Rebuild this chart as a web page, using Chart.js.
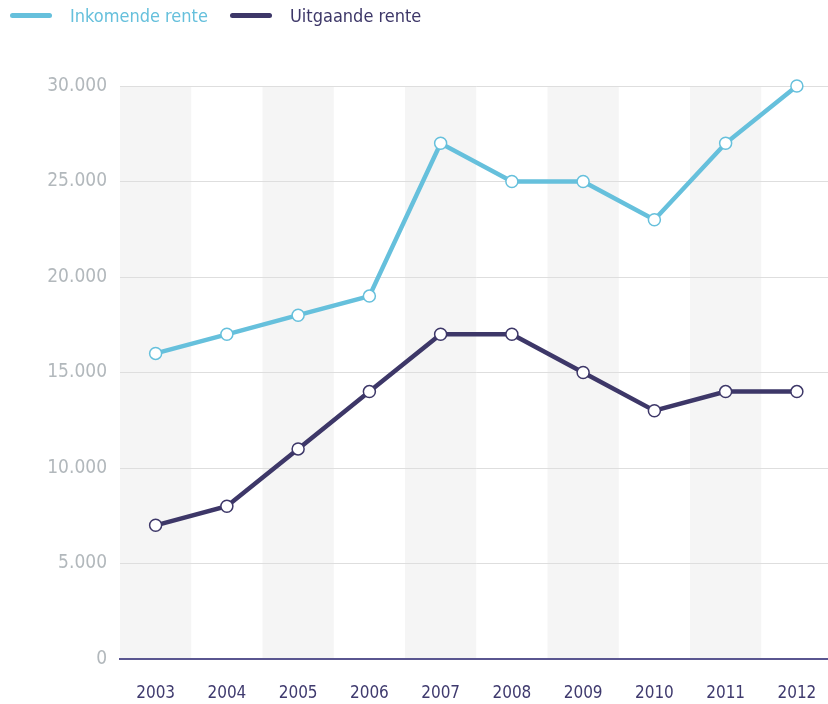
<!DOCTYPE html>
<html lang="nl">
<head>
<meta charset="UTF-8">
<title>Inkomende en uitgaande rente</title>
<script src="https://cdn.jsdelivr.net/npm/chart.js"></script>
<style>
  html, body { margin: 0; padding: 0; background: #fff; overflow: hidden; }
  .wrap { position: relative; width: 828px; height: 704px; overflow: hidden; }
  #legenda { position: absolute; top: 5px; left: 10px; font-family: 'DejaVu Sans Condensed', 'Liberation Sans Narrow', Roboto, sans-serif; font-size: 18px; }
  #legenda .item { position: absolute; top: 0; display: flex; align-items: center; white-space: nowrap; }
  #legenda .lijn { width: 42px; height: 5px; border-radius: 3px; margin-right: 18px; }
  canvas { position: absolute; top: 0; left: 0; }
</style>
</head>
<body>
<div class="wrap">
  <canvas id="renteChart" width="840" height="704"></canvas>
  <div id="legenda"></div>
</div>
<script>
  const jaren = ['2003', '2004', '2005', '2006', '2007', '2008', '2009', '2010', '2011', '2012'];
  const inkomendeRente = [16000, 17000, 18000, 19000, 27000, 25000, 25000, 23000, 27000, 30000];
  const uitgaandeRente = [7000, 8000, 11000, 14000, 17000, 17000, 15000, 13000, 14000, 14000];
  const yTicks = [0, 5000, 10000, 15000, 20000, 25000, 30000];

  const lichtBlauw = '#66c0dc';
  const donkerPaars = '#3d3768';
  const fontNaam = "'DejaVu Sans Condensed', 'Liberation Sans Narrow', Roboto, sans-serif";

  function formatGetal(v) {
    return String(v).replace(/\B(?=(\d{3})+(?!\d))/g, '.');
  }

  // grijze banden achter elk tweede jaar, voor de assen getekend
  const banden = {
    id: 'banden',
    beforeDraw(chart) {
      const { ctx, chartArea, scales } = chart;
      const x = scales.x;
      const breedte = x.getPixelForValue(1) - x.getPixelForValue(0);
      ctx.save();
      ctx.fillStyle = '#f5f5f5';
      jaren.forEach((j, i) => {
        if (i % 2 === 0) {
          const midden = x.getPixelForValue(i);
          ctx.fillRect(midden - breedte / 2, chartArea.top, breedte, chartArea.bottom - chartArea.top);
        }
      });
      ctx.restore();
    }
  };

  const chart = new Chart(document.getElementById('renteChart'), {
    type: 'line',
    data: {
      labels: jaren,
      datasets: [{
        label: 'Inkomende rente',
        data: inkomendeRente,
        borderColor: lichtBlauw,
        backgroundColor: '#ffffff',
        pointBorderColor: lichtBlauw,
        pointBackgroundColor: '#ffffff',
        borderWidth: 4.5,
        pointRadius: 6,
        pointBorderWidth: 1.5,
        tension: 0,
        clip: false
      }, {
        label: 'Uitgaande rente',
        data: uitgaandeRente,
        borderColor: donkerPaars,
        backgroundColor: '#ffffff',
        pointBorderColor: donkerPaars,
        pointBackgroundColor: '#ffffff',
        borderWidth: 4.5,
        pointRadius: 6,
        pointBorderWidth: 1.5,
        tension: 0,
        clip: false
      }]
    },
    options: {
      responsive: false,
      animation: false,
      layout: { padding: { top: 86, left: 0, right: 4, bottom: 0 } },
      plugins: {
        legend: { display: false },
        tooltip: { enabled: false }
      },
      scales: {
        x: {
          offset: true,
          grid: { display: false },
          border: { display: true, color: '#5a5690', width: 2, z: 1 },
          ticks: {
            color: '#3f3a6e',
            padding: 16,
            font: { family: fontNaam, size: 17 }
          },
          afterFit(s) { s.height = 45; }
        },
        y: {
          min: 0,
          max: 30000,
          afterBuildTicks(s) { s.ticks = yTicks.map(v => ({ value: v })); },
          grid: {
            color: ctx => ctx.tick.value === 0 ? 'rgba(0,0,0,0)' : '#dedede',
            lineWidth: 1,
            drawTicks: false
          },
          border: { display: false },
          ticks: {
            color: '#b2b8bc',
            padding: 13,
            font: { family: fontNaam, size: 19 },
            callback: v => formatGetal(v)
          },
          afterFit(s) { s.width = 120; }
        }
      }
    },
    plugins: [banden]
  });

  // legenda in html, gebouwd uit de datasets
  const legenda = document.getElementById('legenda');
  const legendaLinks = [0, 220];
  chart.data.datasets.forEach((ds, i) => {
    const item = document.createElement('div');
    item.className = 'item';
    item.style.left = legendaLinks[i] + 'px';
    const lijn = document.createElement('span');
    lijn.className = 'lijn';
    lijn.style.background = ds.borderColor;
    const tekst = document.createElement('span');
    tekst.textContent = ds.label;
    tekst.style.color = ds.borderColor;
    item.appendChild(lijn);
    item.appendChild(tekst);
    legenda.appendChild(item);
  });
</script>
</body>
</html>
